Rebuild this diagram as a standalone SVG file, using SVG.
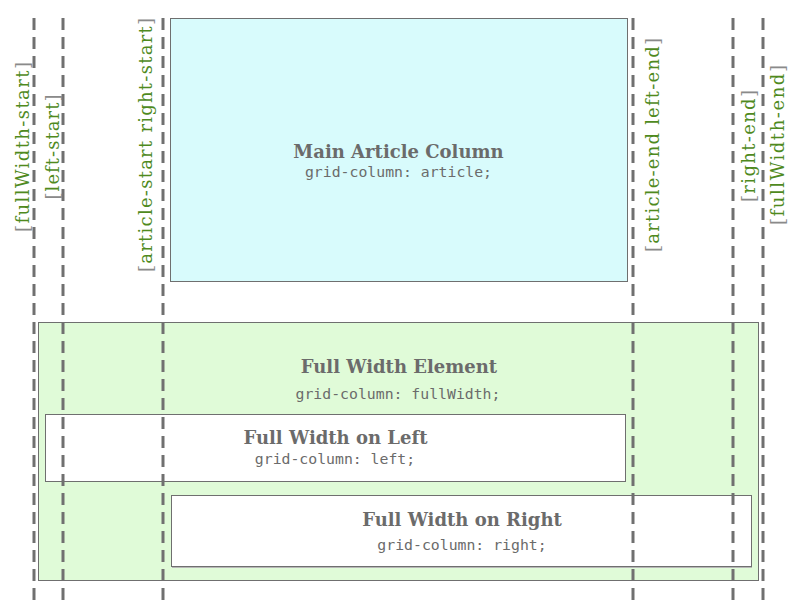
<svg xmlns="http://www.w3.org/2000/svg" width="794" height="611" viewBox="0 0 794 611">
<style>
.box{stroke:#6f6f6f;stroke-width:1}
.title{font-family:"DejaVu Serif","Liberation Serif",serif;font-weight:bold;font-size:18px;fill:#6b6b6b;text-anchor:middle}
.code{font-family:"DejaVu Sans Mono","Liberation Mono",monospace;font-size:14.8px;fill:#6b6b6b;text-anchor:middle}
.lbl{font-family:"DejaVu Serif","Liberation Serif",serif;font-size:18px;fill:#4f8a1e;text-anchor:middle}
.br{fill:#8a8a8a}
.grid{stroke:#707070;stroke-width:3;stroke-dasharray:12 7;fill:none}
</style>
<rect width="794" height="611" fill="#ffffff"/>
<g id="main-article">
<rect class="box" x="170.5" y="18.5" width="457" height="263" fill="#d8fbfc"/>
<text class="title" x="398.5" y="158">Main Article Column</text>
<text class="code" x="398.5" y="177">grid-column: article;</text>
</g>
<g id="full-width">
<rect class="box" x="38.5" y="322.5" width="720" height="258" fill="#e0fbd8"/>
<text class="title" x="399" y="373">Full Width Element</text>
<text class="code" x="398" y="399">grid-column: fullWidth;</text>
</g>
<g id="full-left">
<rect class="box" x="45.5" y="414.5" width="580" height="67" fill="#ffffff"/>
<text class="title" x="335.5" y="444">Full Width on Left</text>
<text class="code" x="335" y="464">grid-column: left;</text>
</g>
<g id="full-right">
<rect x="172" y="497" width="580" height="71" fill="#b8b8b8"/>
<rect class="box" x="171.5" y="495.5" width="580" height="71" fill="#ffffff"/>
<text class="title" x="462" y="526">Full Width on Right</text>
<text class="code" x="462" y="550">grid-column: right;</text>
</g>
<g id="grid-lines">
<line class="grid" x1="34" y1="18" x2="34" y2="602"/>
<line class="grid" x1="63" y1="18" x2="63" y2="602"/>
<line class="grid" x1="163" y1="18" x2="163" y2="602"/>
<line class="grid" x1="633" y1="18" x2="633" y2="602"/>
<line class="grid" x1="733" y1="18" x2="733" y2="602"/>
<line class="grid" x1="763" y1="18" x2="763" y2="602"/>
</g>
<g id="labels">
<text class="lbl" transform="translate(29,147) rotate(-90)" textLength="170" lengthAdjust="spacing"><tspan class="br">[</tspan>fullWidth-start<tspan class="br">]</tspan></text>
<text class="lbl" transform="translate(59,147) rotate(-90)" textLength="105" lengthAdjust="spacing"><tspan class="br">[</tspan>left-start<tspan class="br">]</tspan></text>
<text class="lbl" transform="translate(152,145) rotate(-90)" textLength="254" lengthAdjust="spacing"><tspan class="br">[</tspan>article-start right-start<tspan class="br">]</tspan></text>
<text class="lbl" transform="translate(659,145) rotate(-90)" textLength="214" lengthAdjust="spacing"><tspan class="br">[</tspan>article-end left-end<tspan class="br">]</tspan></text>
<text class="lbl" transform="translate(755,146) rotate(-90)" textLength="112" lengthAdjust="spacing"><tspan class="br">[</tspan>right-end<tspan class="br">]</tspan></text>
<text class="lbl" transform="translate(784,145) rotate(-90)" textLength="160" lengthAdjust="spacing"><tspan class="br">[</tspan>fullWidth-end<tspan class="br">]</tspan></text>
</g>
</svg>
